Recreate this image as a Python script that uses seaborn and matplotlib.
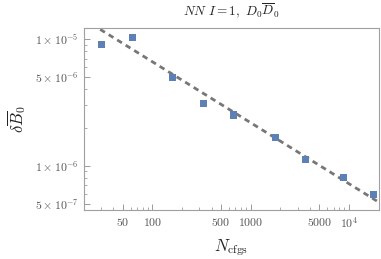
import numpy as np
import pandas as pd
import matplotlib
matplotlib.use('Agg')
import matplotlib.pyplot as plt
import seaborn as sns
from matplotlib.ticker import FixedLocator, NullFormatter

# -------------------------------
# Data
# -------------------------------
n_cfgs = [30.7, 63.5, 162, 329, 676, 1771, 3585, 8750, 17700]
delta_b0 = [9.08e-6, 1.02e-5, 5.0e-6, 3.12e-6, 2.51e-6, 1.66e-6, 1.11e-6, 8.04e-7, 5.94e-7]

# fit line end points (straight on log-log)
fit_n = [29.5, 22000]
fit_b = [1.19e-5, 4.93e-7]

x_ticks = [50, 100, 500, 1000, 5000, 10000]
x_tick_labels = ['$50$', '$100$', '$500$', '$1000$', '$5000$', '$10^4$']
y_ticks = [5e-7, 1e-6, 5e-6, 1e-5]
y_tick_labels = [r'$5\times10^{-7}$', r'$1\times10^{-6}$', r'$5\times10^{-6}$', r'$1\times10^{-5}$']

df = pd.DataFrame({'N': n_cfgs, 'dB': delta_b0})
fit_df = pd.DataFrame({'N': fit_n, 'dB': fit_b})

# -------------------------------
# Style
# -------------------------------
sns.set_style('ticks')
plt.rcParams['font.family'] = ['DejaVu Serif']
plt.rcParams['mathtext.fontset'] = 'cm'

gray = '#8c8c8c'
label_gray = '#555555'

fig = plt.figure(figsize=(3.81, 2.59), dpi=100)
ax = fig.add_axes([0.2205, 0.1892, 0.7743, 0.7027])

sns.lineplot(data=fit_df, x='N', y='dB', ax=ax, color='#777777',
             linestyle=(0, (2, 1.6)), linewidth=2.0, zorder=1)
sns.scatterplot(data=df, x='N', y='dB', ax=ax, marker='s', s=26,
                color='#5E81B5', edgecolor='none', zorder=2)

ax.set_xscale('log')
ax.set_yscale('log')
ax.set_xlim(20.2, 20200)
ax.set_ylim(4.47e-7, 1.22e-5)

# -------------------------------
# Ticks
# -------------------------------
ax.xaxis.set_major_locator(FixedLocator(x_ticks))
ax.set_xticklabels(x_tick_labels)
x_minor = [v * 10 ** d for d in range(1, 5) for v in range(1, 10)]
x_minor = [v for v in x_minor if v not in x_ticks]
ax.xaxis.set_minor_locator(FixedLocator(x_minor))
ax.xaxis.set_minor_formatter(NullFormatter())

ax.yaxis.set_major_locator(FixedLocator(y_ticks))
ax.set_yticklabels(y_tick_labels)
y_minor = [v * 10.0 ** d for d in range(-7, -4) for v in range(1, 10)]
y_minor = [v for v in y_minor if not any(abs(v - t) / t < 1e-6 for t in y_ticks)]
ax.yaxis.set_minor_locator(FixedLocator(y_minor))
ax.yaxis.set_minor_formatter(NullFormatter())

ax.tick_params(which='major', direction='in', length=4, width=0.6,
               color=gray, labelcolor=label_gray, labelsize=8.5, pad=4)
ax.tick_params(which='minor', direction='in', length=2, width=0.5, color=gray)

for side in ['left', 'right', 'top', 'bottom']:
    ax.spines[side].set_visible(True)
    ax.spines[side].set_color('#a0a0a0')
    ax.spines[side].set_linewidth(0.8)

ax.set_xlabel(r'$N_{\mathrm{cfgs}}$', fontsize=12, color='#222222')
ax.xaxis.set_label_coords(0.5, -0.15)
ax.set_ylabel(r'$\delta\overline{B}_0$', fontsize=12, color='#222222')
ax.yaxis.set_label_coords(-0.19, 0.5)
ax.text(0.5, 1.095, r'$NN\ I=1,\ D_0\overline{D}_0$', transform=ax.transAxes,
        ha='center', va='center', fontsize=9.5, color='#222222')

fig.savefig('out.png', dpi=100)
